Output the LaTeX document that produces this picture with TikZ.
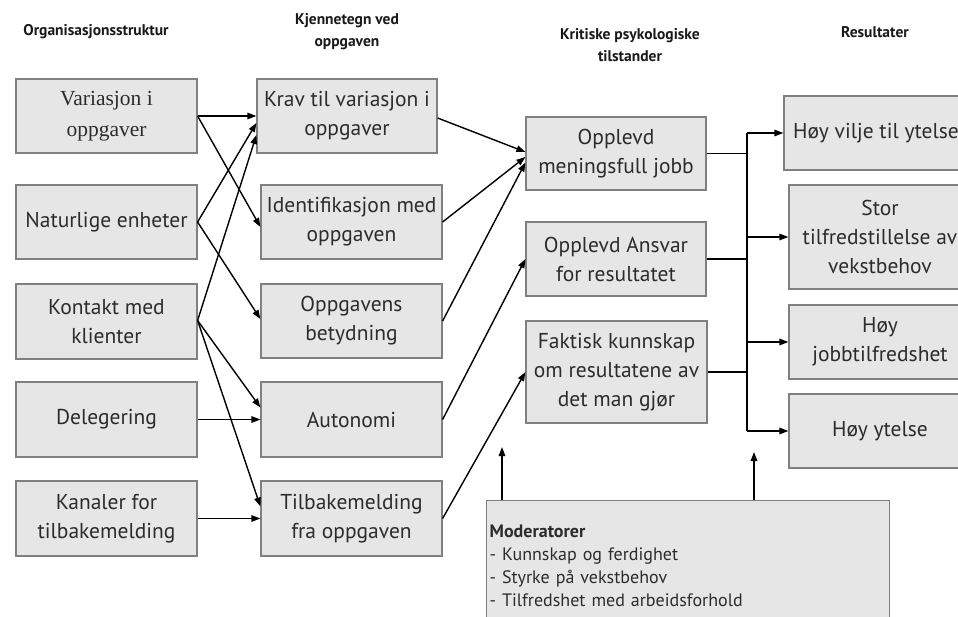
\documentclass[tikz,border=0pt]{standalone}
\usepackage{fontspec}
\setmainfont{PT Sans}
\newfontfamily\boxserif{Liberation Serif}
\usetikzlibrary{arrows.meta,calc}
\definecolor{boxfill}{HTML}{E6E6E6}
\definecolor{boxline}{HTML}{808080}
\definecolor{txt}{HTML}{2C2C2C}
\begin{document}
\begin{tikzpicture}[x=1pt,y=-1pt,
  card/.style={draw=boxline,fill=boxfill,line width=1.2pt,inner sep=0pt,
    text=txt,align=center,font=\fontsize{21.5}{29}\selectfont},
  head/.style={font=\bfseries\fontsize{15.5}{22}\selectfont,text=black!90,align=center},
  link/.style={line width=1.4pt,-{Triangle[length=9pt,width=6.5pt]}},
  wire/.style={line width=1.4pt}]
\useasboundingbox (0,0) rectangle (958,617);
\clip (0,0) rectangle (958,617);

% column headings
\node[head] (h1) at (96,32) {Organisasjonsstruktur};
\node[head] (h2) at (347,32) {Kjennetegn ved\\oppgaven};
\node[head] (h3) at (630,45) {Kritiske psykologiske\\tilstander};
\node[head] (h4) at (875,32) {Resultater};

% organisational structure
\node[card,minimum width=181pt,minimum height=74pt,font=\boxserif\fontsize{21.5}{31}\selectfont] (var) at (106.5,116) {Variasjon i\\oppgaver};
\node[card,minimum width=181pt,minimum height=74pt] (nat) at (106.5,222) {Naturlige enheter};
\node[card,minimum width=181pt,minimum height=75pt] (kon) at (106.5,321.5) {Kontakt med\\klienter};
\node[card,minimum width=181pt,minimum height=75pt] (del) at (106.5,419.5) {Delegering};
\node[card,minimum width=181pt,minimum height=75pt] (kan) at (106.5,518.5) {Kanaler for\\tilbakemelding};

% task characteristics
\node[card,minimum width=180pt,minimum height=74pt] (krav) at (347,116) {Krav til variasjon i\\oppgaver};
\node[card,minimum width=181pt,minimum height=74pt] (ident) at (351.5,222) {Identifikasjon med\\oppgaven};
\node[card,minimum width=181pt,minimum height=74pt] (betyd) at (351.5,321) {Oppgavens\\betydning};
\node[card,minimum width=181pt,minimum height=75pt] (auto) at (351.5,419.5) {Autonomi};
\node[card,minimum width=181pt,minimum height=75pt] (tilb) at (351.5,518.5) {Tilbakemelding\\fra oppgaven};

% critical psychological states
\node[card,minimum width=180pt,minimum height=73pt] (men) at (616,153.5) {Opplevd\\meningsfull jobb};
\node[card,minimum width=180pt,minimum height=74pt] (ans) at (616,259) {Opplevd Ansvar\\for resultatet};
\node[card,minimum width=181pt,minimum height=102pt] (fak) at (616.5,372) {Faktisk kunnskap\\om resultatene av\\det man gjør};

% outcomes
\node[card,minimum width=184pt,minimum height=74pt] (vil) at (876,133) {Høy vilje til ytelse};
\node[card,minimum width=182pt,minimum height=104pt] (sto) at (880,237) {Stor\\tilfredstillelse av\\vekstbehov};
\node[card,minimum width=182pt,minimum height=74pt] (job) at (880,342) {Høy\\jobbtilfredshet};
\node[card,minimum width=182pt,minimum height=74pt] (yte) at (880,431) {Høy ytelse};

% moderators
\node[card,minimum width=403pt,minimum height=130pt,anchor=north west,align=left,
  font=\fontsize{18}{23}\selectfont,text width=397pt,inner xsep=3pt,inner ysep=4pt] (mod) at (486,500)
  {\textbf{Moderatorer}\\- Kunnskap og ferdighet\\- Styrke på vekstbehov\\- Tilfredshet med arbeidsforhold\\[30pt]};

% structure -> task characteristics
\draw[link] (var.east) -- (krav.west);
\draw[link] (var.east) -- ($(ident.west)+(0,5)$);
\draw[link] (nat.east) -- ($(krav.west)+(0,7)$);
\draw[link] (nat.east) -- ($(betyd.west)+(0,-2)$);
\draw[link] ($(kon.east)+(0,-1)$) -- ($(krav.west)+(0,19)$);
\draw[link] ($(kon.east)+(0,-1)$) -- ($(auto.west)+(0,-12)$);
\draw[link] ($(kon.east)+(0,-1)$) -- ($(tilb.west)+(0,-12)$);
\draw[link] (del.east) -- (auto.west);
\draw[link] (kan.east) -- (tilb.west);

% task characteristics -> psychological states
\draw[link] ($(krav.east)+(0,2)$) -- ($(men.west)+(0,-1.5)$);
\draw[link] (ident.east) -- ($(men.west)+(0,3.5)$);
\draw[link] (betyd.east) -- ($(men.west)+(0,9)$);
\draw[link] (auto.east) -- (ans.west);
\draw[link] (tilb.east) -- (fak.west);

% collecting bus towards the outcomes
\coordinate (bus) at (747,0);
\draw[wire] (men.east) -- (men.east -| bus);
\draw[wire] (ans.east) -- (ans.east -| bus);
\draw[wire] (fak.east) -- (fak.east -| bus);
\draw[wire] (vil.west -| bus) -- (yte.west -| bus);
\draw[link] (vil.west -| bus) -- (vil.west);
\draw[link] (sto.west -| bus) -- (sto.west);
\draw[link] (job.west -| bus) -- (job.west);
\draw[link] (yte.west -| bus) -- (yte.west);

% moderator influence
\coordinate (m1) at (502,447);
\coordinate (m2) at (754,452);
\draw[link] (mod.north west -| m1) -- (m1);
\draw[link] (mod.north west -| m2) -- (m2);
\end{tikzpicture}
\end{document}
